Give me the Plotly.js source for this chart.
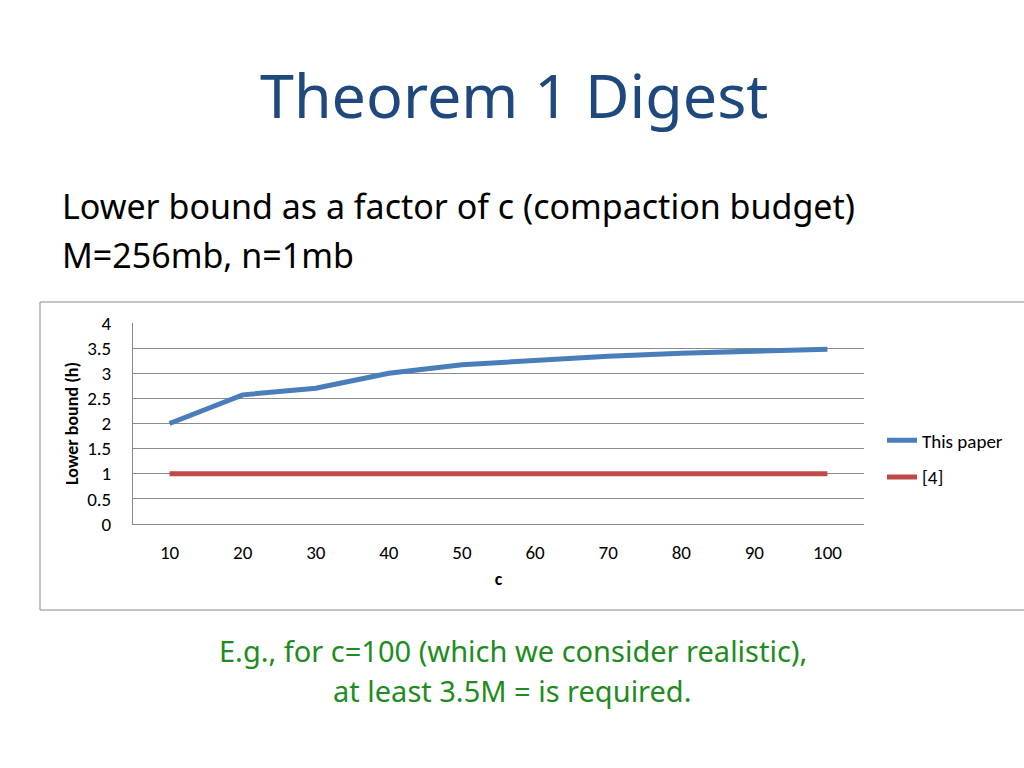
<!DOCTYPE html>
<html>
<head>
<meta charset="utf-8">
<script src="https://cdn.plot.ly/plotly-3.0.1.min.js"></script>
<style>
html,body{margin:0;padding:0;background:#fff;}
#chart{width:1024px;height:768px;}
</style>
</head>
<body>
<div id="chart"></div>
<script>
// ---- data ----
var categories = ["10", "20", "30", "40", "50", "60", "70", "80", "90", "100"];
var thisPaper = [2.0, 2.57, 2.70, 3.0, 3.17, 3.26, 3.34, 3.40, 3.45, 3.48];
var ref4 = [1, 1, 1, 1, 1, 1, 1, 1, 1, 1];
var seriesNames = ["This paper", "[4]"];
var yTickVals = [0, 0.5, 1, 1.5, 2, 2.5, 3, 3.5, 4];
var yTickText = ["0", "0.5", "1", "1.5", "2", "2.5", "3", "3.5", "4"];

// ---- layout helpers (pixel -> paper) ----
var L = 133, R = 864, T = 323, B = 524;
function px(x){ return (x - L) / (R - L); }
function py(y){ return (B - y) / (B - T); }

var chartFont = "Carlito, Lato, 'Open Sans', sans-serif";
var slideFont = "'Comic Sans MS', 'Noto Sans', sans-serif";

var traces = [
  {x: categories, y: thisPaper, type: "scatter", mode: "lines", name: seriesNames[0],
   legendgroup: "a", line: {color: "#4A7EBB", width: 5}},
  {x: categories, y: ref4, type: "scatter", mode: "lines", name: seriesNames[1],
   legendgroup: "b", line: {color: "#BE4B48", width: 5}}
];

var layout = {
  width: 1024, height: 768,
  margin: {l: L, r: 1024 - R, t: T, b: 768 - B, pad: 0},
  paper_bgcolor: "#fff", plot_bgcolor: "#fff",
  showlegend: true,
  legend: {x: px(882), xanchor: "left", y: py(459), yanchor: "middle",
           font: {family: chartFont, size: 19, color: "#000"},
           tracegroupgap: 9, bgcolor: "rgba(0,0,0,0)"},
  xaxis: {type: "category", range: [-0.5, 9.5], showline: true, linecolor: "#888", linewidth: 1,
          showgrid: false, ticks: "", ticklabelstandoff: 11,
          tickfont: {family: chartFont, size: 19, color: "#000"},
          title: {text: "<b>c</b>", font: {family: chartFont, size: 18, color: "#000"}, standoff: 9}},
  yaxis: {range: [0, 4], tickvals: yTickVals, ticktext: yTickText,
          showline: true, linecolor: "#888", linewidth: 1,
          showgrid: true, gridcolor: "#8c8c8c", gridwidth: 1, zeroline: false,
          ticks: "", ticklabelstandoff: 17,
          tickfont: {family: chartFont, size: 19, color: "#000"},
          title: {text: "<b>Lower bound (h)</b>", font: {family: chartFont, size: 18, color: "#000"}, standoff: 3}},
  shapes: [
    {type: "rect", xref: "paper", yref: "paper", x0: px(40), x1: px(1030), y0: py(610), y1: py(302),
     line: {color: "#8a8a8a", width: 1}, fillcolor: "rgba(0,0,0,0)", layer: "below"}
  ],
  annotations: [
    {text: "Theorem 1 Digest", xref: "paper", yref: "paper", x: px(514), y: py(95),
     xanchor: "center", yanchor: "middle", showarrow: false,
     font: {family: slideFont, size: 61, color: "#1F497D"}},
    {text: "Lower bound as a factor of c (compaction budget)", xref: "paper", yref: "paper",
     x: px(60), y: py(206), xanchor: "left", yanchor: "middle", showarrow: false,
     font: {family: slideFont, size: 34, color: "#000"}},
    {text: "M=256mb, n=1mb", xref: "paper", yref: "paper",
     x: px(60), y: py(255), xanchor: "left", yanchor: "middle", showarrow: false,
     font: {family: slideFont, size: 34, color: "#000"}},
    {text: "E.g., for c=100 (which we consider realistic),", xref: "paper", yref: "paper",
     x: px(513), y: py(650), xanchor: "center", yanchor: "middle", showarrow: false,
     font: {family: slideFont, size: 29, color: "#1E8C1E"}},
    {text: "at least 3.5M = is required.", xref: "paper", yref: "paper",
     x: px(512), y: py(690), xanchor: "center", yanchor: "middle", showarrow: false,
     font: {family: slideFont, size: 29, color: "#1E8C1E"}}
  ]
};

Plotly.newPlot("chart", traces, layout, {displayModeBar: false, staticPlot: true});
</script>
</body>
</html>
